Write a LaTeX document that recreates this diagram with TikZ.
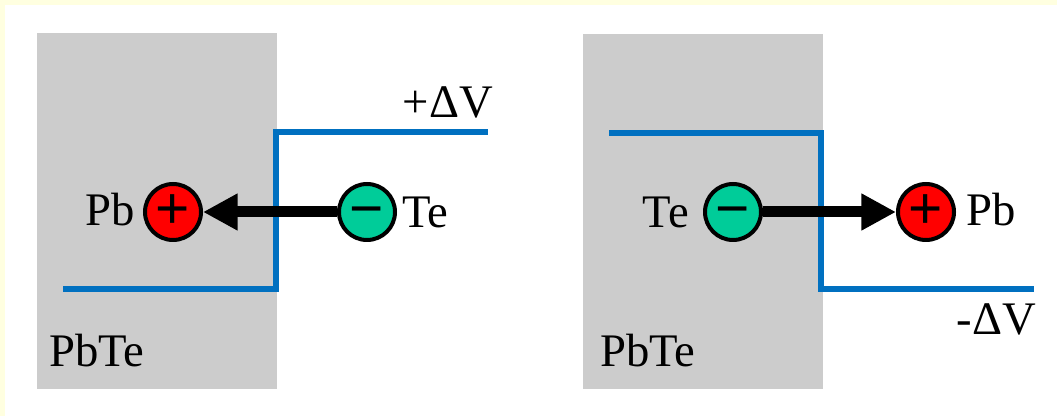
\documentclass[tikz,border=0pt]{standalone}
\usepackage{fontspec}
\setmainfont{Liberation Serif}
\newfontfamily\serifface{Liberation Serif}
\newfontfamily\signfont{Liberation Sans}
\usetikzlibrary{arrows.meta}
\definecolor{frameyellow}{RGB}{255,255,224}
\definecolor{boxgray}{RGB}{204,204,204}
\definecolor{levelblue}{RGB}{0,112,192}
\definecolor{ionred}{RGB}{255,0,0}
\definecolor{iongreen}{RGB}{0,204,153}
\tikzset{
  lbl/.style={inner sep=0pt, anchor=base west, font=\serifface\fontsize{35}{40}\selectfont},
  lble/.style={inner sep=0pt, anchor=base east, font=\serifface\fontsize{35}{40}\selectfont},
  ion/.style={circle, draw=black, line width=3pt, minimum size=42pt, inner sep=0pt,
              font=\signfont\fontsize{44}{48}\selectfont},
  posion/.style={ion, fill=ionred},
  negion/.style={ion, fill=iongreen},
  level/.style={draw=levelblue, line width=4.3pt},
  slab/.style={fill=boxgray},
  hop/.style={line width=8.25pt, -{Triangle[length=26pt,width=26pt]}}
}
\begin{document}
\begin{tikzpicture}[x=0.75pt,y=-0.75pt]
\useasboundingbox (0,0) rectangle (1057,416);
\fill[frameyellow] (0,0) rectangle (1057,416);
\fill[white] (5,5) rectangle (1057,416);
% left panel
\fill[slab] (37,33) rectangle (277,389);
\draw[level] (63,289) -- (276,289) -- (276,132) -- (488,132);
\node[lble] (dvL) at (493,118) {+ΔV};
\node[lbl] (slabL) at (49,367) {PbTe};
\node[posion] (pbL) at (173,212) {+};
\node[negion] (teL) at (367,212) {\vphantom{+}−};
\node[lble] (pbLt) at (135,226) {Pb};
\node[lbl] (teLt) at (402,228) {Te};
\draw[hop] (teL) -- (pbL);
% right panel
\fill[slab] (583,34) rectangle (823,389);
\draw[level] (609,133) -- (821,133) -- (821,289) -- (1034,289);
\node[lble] (dvR) at (1036,335) {-ΔV};
\node[lbl] (slabR) at (600,367) {PbTe};
\node[negion] (teR) at (733,212) {\vphantom{+}−};
\node[posion] (pbR) at (926,212) {+};
\node[lble] (teRt) at (689,228) {Te};
\node[lbl] (pbRt) at (966,226) {Pb};
\draw[hop] (teR) -- (pbR);
\end{tikzpicture}
\end{document}
